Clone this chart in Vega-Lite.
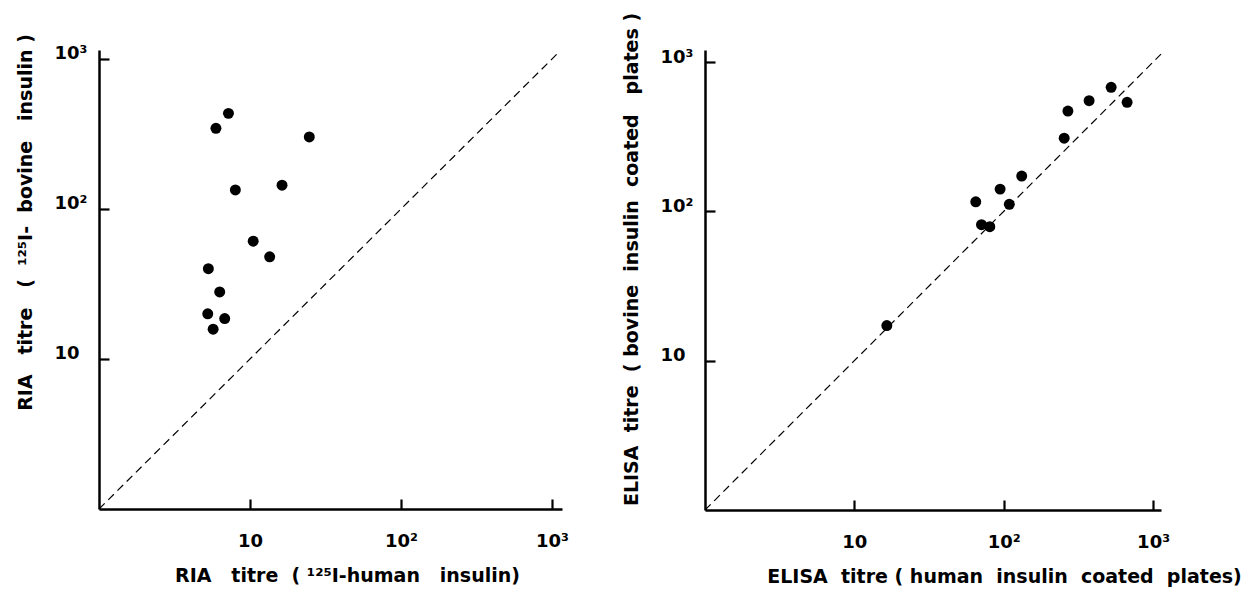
{
  "$schema": "https://vega.github.io/schema/vega-lite/v6.json",
  "background": "white",
  "padding": {"left": 16, "top": 12, "right": 5, "bottom": 5},
  "config": {
    "view": {"stroke": null},
    "font": "DejaVu Sans",
    "axis": {
      "grid": false,
      "domainColor": "black",
      "domainWidth": 2.5,
      "tickColor": "black",
      "tickWidth": 2.2,
      "tickSize": -10,
      "labelFont": "DejaVu Sans",
      "labelFontWeight": "bold",
      "labelFontSize": 18,
      "labelColor": "black",
      "titleFont": "DejaVu Sans",
      "titleFontWeight": "bold",
      "titleFontSize": 19,
      "titleColor": "black"
    },
    "axisX": {"labelPadding": 33, "titlePadding": 16},
    "axisY": {"labelPadding": 55, "labelAlign": "left", "labelBaseline": "alphabetic", "titlePadding": 19}
  },
  "datasets": {
    "ria": [
      {"human": 7.2, "bovine": 434},
      {"human": 5.95, "bovine": 345},
      {"human": 24.7, "bovine": 302},
      {"human": 8.0, "bovine": 134},
      {"human": 16.3, "bovine": 144},
      {"human": 10.5, "bovine": 61},
      {"human": 13.5, "bovine": 48},
      {"human": 5.3, "bovine": 40},
      {"human": 6.3, "bovine": 28},
      {"human": 5.25, "bovine": 20},
      {"human": 6.8, "bovine": 18.6},
      {"human": 5.7, "bovine": 15.8}
    ],
    "elisa": [
      {"human": 65, "bovine": 116},
      {"human": 71, "bovine": 81.5},
      {"human": 80.7, "bovine": 79},
      {"human": 94.6, "bovine": 141},
      {"human": 109, "bovine": 111.6},
      {"human": 132, "bovine": 172.6},
      {"human": 254, "bovine": 309},
      {"human": 269, "bovine": 470},
      {"human": 373, "bovine": 551},
      {"human": 524, "bovine": 678},
      {"human": 670, "bovine": 538},
      {"human": 16.5, "bovine": 17.2}
    ],
    "diagLeft": [
      {"human": 1, "bovine": 1},
      {"human": 1110, "bovine": 1110}
    ],
    "diagRight": [
      {"human": 1, "bovine": 1},
      {"human": 1130, "bovine": 1130}
    ]
  },
  "bounds": "flush",
  "spacing": 143,
  "hconcat": [
    {
      "width": 463,
      "height": 459,
      "layer": [
        {
          "data": {"name": "diagLeft"},
          "mark": {"type": "line", "color": "black", "strokeWidth": 1.2, "strokeDash": [8, 5]},
          "encoding": {
            "x": {
              "field": "human", "type": "quantitative",
              "scale": {"type": "log", "domain": [1, 1165], "nice": false},
              "axis": {
                "values": [10, 100, 1000],
                "labelExpr": "datum.value == 10 ? '10' : (datum.value == 100 ? '10²' : '10³')",
                "title": "RIA\u00a0\u00a0 titre\u00a0 (\u00a0¹²⁵I-human\u00a0\u00a0 insulin)",
                "titleX": 248
              }
            },
            "y": {
              "field": "bovine", "type": "quantitative",
              "scale": {"type": "log", "domain": [1, 1148], "nice": false},
              "axis": {
                "values": [10, 100, 1000],
                "labelExpr": "datum.value == 10 ? '10' : (datum.value == 100 ? '10²' : '10³')",
                "title": "RIA\u00a0\u00a0 titre\u00a0\u00a0 (\u00a0\u00a0¹²⁵I-\u00a0 bovine\u00a0\u00a0 insulin\u00a0)",
                "titleY": 172
              }
            }
          }
        },
        {
          "data": {"name": "ria"},
          "mark": {"type": "circle", "size": 120, "color": "black", "opacity": 1},
          "encoding": {
            "x": {"field": "human", "type": "quantitative"},
            "y": {"field": "bovine", "type": "quantitative"}
          }
        }
      ]
    },
    {
      "width": 456,
      "height": 460,
      "layer": [
        {
          "data": {"name": "diagRight"},
          "mark": {"type": "line", "color": "black", "strokeWidth": 1.2, "strokeDash": [8, 5]},
          "encoding": {
            "x": {
              "field": "human", "type": "quantitative",
              "scale": {"type": "log", "domain": [1, 1130], "nice": false},
              "axis": {
                "values": [10, 100, 1000],
                "labelExpr": "datum.value == 10 ? '10' : (datum.value == 100 ? '10²' : '10³')",
                "title": "ELISA\u00a0 titre ( human\u00a0 insulin\u00a0 coated\u00a0 plates)",
                "titleX": 299
              }
            },
            "y": {
              "field": "bovine", "type": "quantitative",
              "scale": {"type": "log", "domain": [1, 1205], "nice": false},
              "axis": {
                "values": [10, 100, 1000],
                "labelExpr": "datum.value == 10 ? '10' : (datum.value == 100 ? '10²' : '10³')",
                "title": "ELISA\u00a0 titre\u00a0 (\u00a0bovine\u00a0 insulin\u00a0 coated\u00a0\u00a0 plates\u00a0)",
                "titleY": 209
              }
            }
          }
        },
        {
          "data": {"name": "elisa"},
          "mark": {"type": "circle", "size": 120, "color": "black", "opacity": 1},
          "encoding": {
            "x": {"field": "human", "type": "quantitative"},
            "y": {"field": "bovine", "type": "quantitative"}
          }
        }
      ]
    }
  ]
}
